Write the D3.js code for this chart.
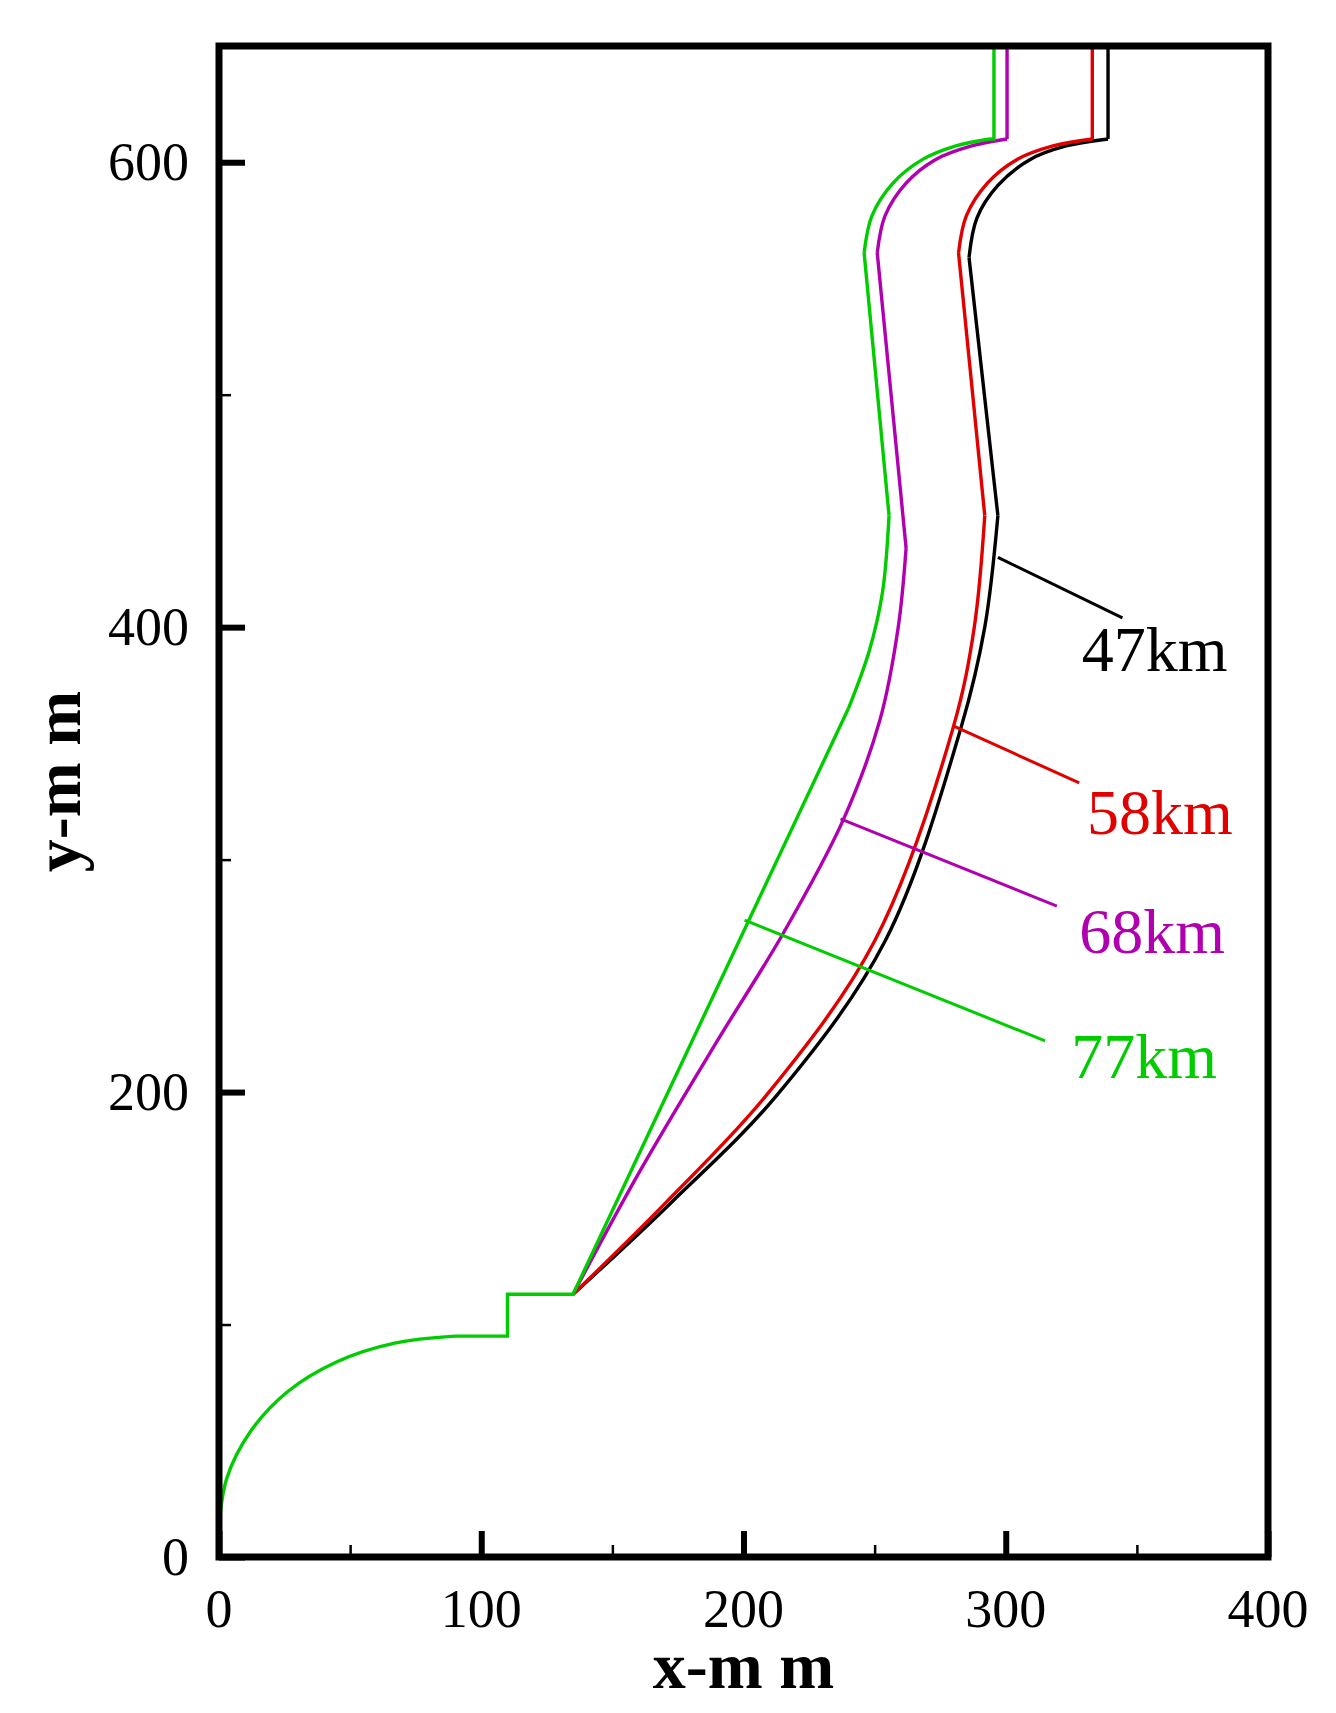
<!DOCTYPE html>
<html><head><meta charset="utf-8">
<script src="https://cdn.jsdelivr.net/npm/d3@7"></script>
<style>body{margin:0;background:#fff}svg{display:block}</style>
</head><body>
<svg id="chart" width="1336" height="1713"></svg>
<script>
// contour pieces (mm); each series: [nose arc / steps], lower flank, upper straight, shoulder arc, exit
const greenNose = [[0,13],[3,34],[12,54],[26,71],[45,84],[67,92],[90,95]];
const greenSteps = [[90,95],[110,95],[110,113],[135,113],[240,365]];
const greenFlank = [[240,365],[248,390],[253,415],[255.5,448]];
const greenUpper = [[255.5,448],[246,561]];
const greenArc = [[246,561],[249,577],[257,591],[268,601],[281,607],[294,610]];
const greenExit = [[294,610],[295.5,610],[295.5,650]];

const purpleFlank = [[135,113],[160,165],[190,222],[215,268],[238,317],[252,360],[259,400],[262,434]];
const purpleUpper = [[262,434],[251,561]];
const purpleArc = [[251,561],[254,577],[262,591],[273,601],[287,607],[300.5,610]];
const purpleExit = [[300.5,610],[300.5,650]];

const redFlank = [[135,113],[170,152],[209,199],[250,265],[280,357],[288,400],[292,448]];
const redUpper = [[292,448],[282,561]];
const redArc = [[282,561],[285,577],[293,591],[304,601],[318,607],[333,610]];
const redExit = [[333,610],[333,650]];

const blackFlank = [[135,113],[172,152],[213,199],[254,265],[283,357],[292,400],[297,448]];
const blackUpper = [[297,448],[286,559]];
const blackArc = [[286,559],[289,576],[297,590],[309,601],[323,607],[339,610]];
const blackExit = [[339,610],[339,650]];

const seriesNames = ["47km","58km","68km","77km"];
const seriesColors = ["#000000","#e00000","#b000b0","#00cc00"];
const leaders = [[[297,430],[344.5,404]],[[280,357.5],[328,333]],[[237,317.5],[319.5,280]],[[200.4,274],[315,222]]];
const labelPos = [[329,381],[331,311],[328,260],[325,206]];
const xTicks = [0,100,200,300,400];
const yTicks = [0,200,400,600];

const svg = d3.select("#chart");
const L = 219, R = 1268, T = 46, B = 1557;
const x = d3.scaleLinear().domain([0,400]).range([L,R]);
const y = d3.scaleLinear().domain([0,650]).range([B,T]);
const smooth = d3.line().x(d => x(d[0])).y(d => y(d[1])).curve(d3.curveCatmullRom);
const straight = d3.line().x(d => x(d[0])).y(d => y(d[1]));

function piece(gen, data, color) {
  svg.append("path").attr("d", gen(data)).attr("fill","none")
    .attr("stroke",color).attr("stroke-width",3.4).attr("stroke-linejoin","miter");
}
const pieces = [
  [blackFlank, blackUpper, blackArc, blackExit],
  [redFlank, redUpper, redArc, redExit],
  [purpleFlank, purpleUpper, purpleArc, purpleExit],
  [greenFlank, greenUpper, greenArc, greenExit]
];
pieces.forEach((p, i) => {
  piece(smooth, p[0], seriesColors[i]);
  piece(straight, p[1], seriesColors[i]);
  piece(smooth, p[2], seriesColors[i]);
  piece(straight, p[3], seriesColors[i]);
});
piece(smooth, greenNose, seriesColors[3]);
piece(straight, greenSteps, seriesColors[3]);

// leaders and labels
leaders.forEach((l, i) => {
  svg.append("path").attr("d", straight(l)).attr("stroke", seriesColors[i]).attr("stroke-width",3).attr("fill","none");
  svg.append("text").attr("x", x(labelPos[i][0])).attr("y", y(labelPos[i][1]))
    .attr("font-family","Liberation Serif").attr("font-size",64).attr("fill",seriesColors[i]).text(seriesNames[i]);
});

// axes
const xAxis = d3.axisBottom(x).tickValues(d3.range(0,401,50)).tickSize(-12).tickFormat("");
const yAxis = d3.axisLeft(y).tickValues(d3.range(0,651,100)).tickSize(-12).tickFormat("");
const gx = svg.append("g").attr("transform",`translate(0,${B})`).call(xAxis);
const gy = svg.append("g").attr("transform",`translate(${L},0)`).call(yAxis);
[gx, gy].forEach(g => { g.select(".domain").remove(); g.selectAll("line").attr("stroke","#000").attr("stroke-width",2.5); });
gx.selectAll(".tick line").filter(d => d % 100 == 0).attr("y2",-26).attr("stroke-width",6);
gy.selectAll(".tick line").filter(d => d % 200 == 0).attr("x2",26).attr("stroke-width",6);

svg.append("rect").attr("x",L).attr("y",T).attr("width",R-L).attr("height",B-T)
  .attr("fill","none").attr("stroke","#000").attr("stroke-width",7);

svg.selectAll(".xt").data(xTicks).enter().append("text")
  .attr("x", d => x(d)).attr("y", B + 70).attr("text-anchor","middle")
  .attr("font-family","Liberation Serif").attr("font-size",54).text(d => d);
svg.selectAll(".yt").data(yTicks).enter().append("text")
  .attr("x", L - 30).attr("y", d => y(d) + 18).attr("text-anchor","end")
  .attr("font-family","Liberation Serif").attr("font-size",54).text(d => d);

svg.append("text").attr("x", (L+R)/2).attr("y", 1688).attr("text-anchor","middle")
  .attr("font-family","Liberation Serif").attr("font-weight","bold").attr("font-size",66).text("x-m m");
svg.append("text").attr("transform",`translate(80,${(T+B)/2 - 20}) rotate(-90)`).attr("text-anchor","middle")
  .attr("font-family","Liberation Serif").attr("font-weight","bold").attr("font-size",66).text("y-m m");
</script>
</body></html>
